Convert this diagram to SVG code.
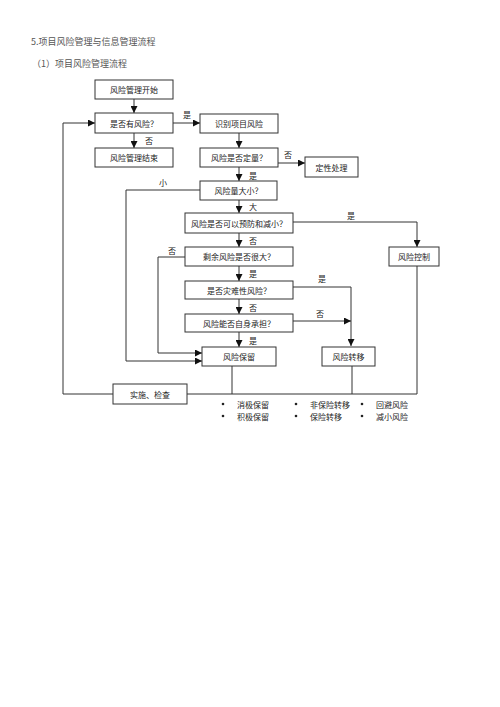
<svg xmlns="http://www.w3.org/2000/svg" width="500" height="707" viewBox="0 0 500 707">
<style>
.hd{font-family:"Noto Sans CJK SC","Noto Sans",sans-serif;font-size:9px;fill:#555}
.bx{fill:#fff;stroke:#333;stroke-width:1}
.t{font-family:"Noto Sans CJK SC",sans-serif;font-size:8px;fill:#222;text-anchor:middle;dominant-baseline:central}
.l{font-family:"Noto Sans CJK SC",sans-serif;font-size:8px;fill:#222;text-anchor:middle;dominant-baseline:central}
.ln{fill:none;stroke:#333;stroke-width:1}
.b{font-family:"Noto Sans CJK SC",sans-serif;font-size:8px;fill:#222;dominant-baseline:central}
</style>
<defs>
<marker id="ar" viewBox="0 0 8 8" refX="8" refY="4" markerWidth="7" markerHeight="7" markerUnits="userSpaceOnUse" orient="auto">
<path d="M0,0 L8,4 L0,8 z" fill="#111"/>
</marker>
</defs>
<rect width="500" height="707" fill="#fff"/>
<text class="hd" x="31" y="45">5.项目风险管理与信息管理流程</text>
<text class="hd" x="32" y="67">（1）项目风险管理流程</text>

<g id="connectors">
<path class="ln" d="M134,99 V113" marker-end="url(#ar)"/>
<path class="ln" d="M173,123 H200" marker-end="url(#ar)"/>
<path class="ln" d="M134,133 V148" marker-end="url(#ar)"/>
<path class="ln" d="M239,133 V148" marker-end="url(#ar)"/>
<path class="ln" d="M278,163 H305" marker-end="url(#ar)"/>
<path class="ln" d="M239,167 V181" marker-end="url(#ar)"/>
<path class="ln" d="M200,190 H126 V361 H202" marker-end="url(#ar)"/>
<path class="ln" d="M239,200 V213" marker-end="url(#ar)"/>
<path class="ln" d="M293,222 H417 V247" marker-end="url(#ar)"/>
<path class="ln" d="M239,233 V247" marker-end="url(#ar)"/>
<path class="ln" d="M185,257 H158 V353 H202" marker-end="url(#ar)"/>
<path class="ln" d="M239,266 V281" marker-end="url(#ar)"/>
<path class="ln" d="M293,287 H351 V346" marker-end="url(#ar)"/>
<path class="ln" d="M239,299 V314" marker-end="url(#ar)"/>
<path class="ln" d="M293,321 H351" marker-end="url(#ar)"/>
<path class="ln" d="M239,332 V347" marker-end="url(#ar)"/>
<path class="ln" d="M232,366 V394"/>
<path class="ln" d="M352,366 V394"/>
<path class="ln" d="M417,266 V394 H187"/>
<path class="ln" d="M113,394 H63 V123 H95" marker-end="url(#ar)"/>
<text class="l" x="187" y="114">是</text>
<text class="l" x="149" y="140">否</text>
<text class="l" x="288" y="154">否</text>
<text class="l" x="253" y="175">是</text>
<text class="l" x="163" y="182">小</text>
<text class="l" x="253" y="206">大</text>
<text class="l" x="351" y="215">是</text>
<text class="l" x="253" y="240">否</text>
<text class="l" x="172" y="250">否</text>
<text class="l" x="253" y="273">是</text>
<text class="l" x="322" y="278">是</text>
<text class="l" x="253" y="307">否</text>
<text class="l" x="320" y="313">否</text>
<text class="l" x="253" y="340">是</text>
</g>

<g id="start"><rect class="bx" x="95" y="80" width="78" height="19"/><text class="t" x="134" y="89.5">风险管理开始</text></g>
<g id="hasrisk"><rect class="bx" x="95" y="113" width="78" height="20"/><text class="t" x="134" y="123">是否有风险？</text></g>
<g id="end"><rect class="bx" x="95" y="148" width="78" height="19"/><text class="t" x="134" y="157.5">风险管理结束</text></g>
<g id="identify"><rect class="bx" x="200" y="114" width="78" height="19"/><text class="t" x="239" y="123.5">识别项目风险</text></g>
<g id="quant"><rect class="bx" x="200" y="148" width="78" height="19"/><text class="t" x="239" y="157.5">风险是否定量？</text></g>
<g id="qual"><rect class="bx" x="305" y="157" width="53" height="20"/><text class="t" x="331.5" y="167">定性处理</text></g>
<g id="size"><rect class="bx" x="200" y="181" width="77" height="19"/><text class="t" x="238.5" y="190.5">风险量大小？</text></g>
<g id="prevent"><rect class="bx" x="185" y="213" width="108" height="20"/><text class="t" x="239" y="223">风险是否可以预防和减小？</text></g>
<g id="control"><rect class="bx" x="389" y="247" width="50" height="19"/><text class="t" x="414" y="256.5">风险控制</text></g>
<g id="residual"><rect class="bx" x="185" y="247" width="108" height="19"/><text class="t" x="239" y="256.5">剩余风险是否很大？</text></g>
<g id="disaster"><rect class="bx" x="185" y="281" width="108" height="18"/><text class="t" x="239" y="290">是否灾难性风险？</text></g>
<g id="bear"><rect class="bx" x="185" y="314" width="108" height="18"/><text class="t" x="239" y="323">风险能否自身承担？</text></g>
<g id="retain"><rect class="bx" x="202" y="347" width="74" height="19"/><text class="t" x="239" y="356.5">风险保留</text></g>
<g id="transfer"><rect class="bx" x="322" y="347" width="53" height="19"/><text class="t" x="348.5" y="356.5">风险转移</text></g>
<g id="implement"><rect class="bx" x="113" y="384" width="74" height="20"/><text class="t" x="150" y="394">实施、检查</text></g>

<g id="bullets">
<circle cx="223" cy="404" r="1.3" fill="#222"/><text class="b" x="237" y="404">消极保留</text>
<circle cx="223" cy="416" r="1.3" fill="#222"/><text class="b" x="237" y="416">积极保留</text>
<circle cx="296" cy="404" r="1.3" fill="#222"/><text class="b" x="310" y="404">非保险转移</text>
<circle cx="296" cy="416" r="1.3" fill="#222"/><text class="b" x="310" y="416">保险转移</text>
<circle cx="362" cy="404" r="1.3" fill="#222"/><text class="b" x="376" y="404">回避风险</text>
<circle cx="362" cy="416" r="1.3" fill="#222"/><text class="b" x="376" y="416">减小风险</text>
</g>
</svg>
